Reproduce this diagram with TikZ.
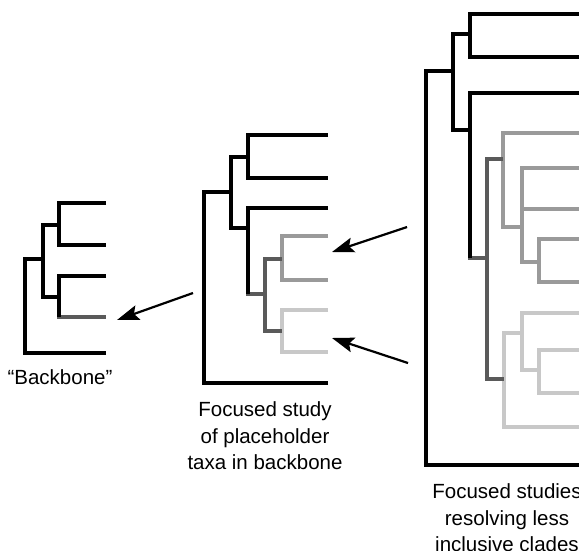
\documentclass[tikz,border=0pt]{standalone}
\usepackage{fontspec}
\setmainfont{Liberation Sans}
\usetikzlibrary{arrows.meta}
\definecolor{Dark}{HTML}{5A5A5A}
\definecolor{Mid}{HTML}{9A9A9A}
\definecolor{Light}{HTML}{C8C8C8}

\begin{document}
\begin{tikzpicture}[x=1pt,y=-1pt,line width=4pt,line join=miter,
    note/.style={align=center,inner sep=0pt,font=\fontsize{20.5}{26.5}\selectfont},
    pointer/.style={line width=2.2pt,-{Stealth[length=22pt,width=15pt,inset=4pt]}}]
  \useasboundingbox (0,0) rectangle (579,550);
  \clip (0,0) rectangle (579,550);
  % backbone tree
  \draw[Dark] (57,317) -- (106,317);
  \draw (106,353) -| (25,259) -- (43,259);
  \draw (59,225) -| (43,297) -- (59,297);
  \draw (106,203) -| (59,245) -- (106,245);
  \draw (106,276) -| (59,317);
  % focused study of placeholder taxa
  \draw (328,383) -| (204,192) -- (231,192);
  \draw (248,157) -| (231,228) -- (248,228);
  \draw (328,135) -| (248,178) -- (328,178);
  \draw[Mid] (328,236) -| (282,280) -- (328,280);
  \draw[Light] (328,310) -| (282,352) -- (328,352);
  \draw[Dark] (246,294) -- (265,294);
  \draw[Dark] (282,259) -| (265,331) -- (282,331);
  \draw (328,208) -| (248,294);
  % focused studies of less inclusive clades
  \draw (600,465) -| (426,71) -- (453,71);
  \draw (470,34) -| (453,130) -- (470,130);
  \draw (600,14) -| (470,57) -- (600,57);
  \draw[Mid] (600,133) -| (503,227) -- (522,227);
  \draw[Mid] (600,168) -| (522,262) -- (539,262);
  \draw[Mid] (522,209) -- (600,209);
  \draw[Mid] (600,239) -| (539,282) -- (600,282);
  \draw[Light] (522,333) -| (504,427) -- (600,427);
  \draw[Light] (600,313) -| (522,370) -- (539,370);
  \draw[Light] (600,350) -| (539,393) -- (600,393);
  \draw[Dark] (468,258) -- (487,258);
  \draw[Dark] (503,159) -| (487,379) -- (504,379);
  \draw (600,93) -| (470,258);
  % arrows
  \coordinate (bbtail) at (193,293);
  \coordinate (bbhead) at (117,320);
  \coordinate (midtail) at (407,227);
  \coordinate (midhead) at (332,252);
  \coordinate (lighttail) at (408,363);
  \coordinate (lighthead) at (332,338);
  \draw[pointer] (bbtail) -- (bbhead);
  \draw[pointer] (midtail) -- (midhead);
  \draw[pointer] (lighttail) -- (lighthead);
  % labels
  \node[note] (backbone) at (60,377) {“Backbone”};
  \node[note] (study) at (265,436) {Focused study\\of placeholder\\taxa in backbone};
  \node[note] (studies) at (507,518) {Focused studies\\resolving less\\inclusive clades};
\end{tikzpicture}
\end{document}
